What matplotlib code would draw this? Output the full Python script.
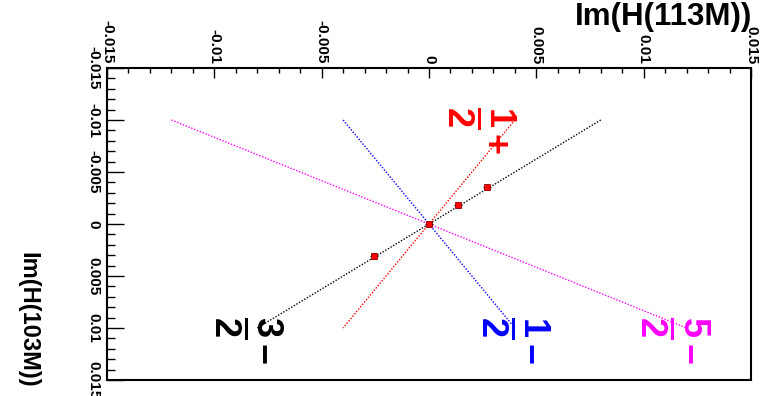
import matplotlib.pyplot as plt
from matplotlib.ticker import MultipleLocator, FuncFormatter

plt.rcParams['font.family'] = ['Liberation Sans', 'DejaVu Sans']
plt.rcParams['font.weight'] = 'bold'
plt.rcParams['axes.unicode_minus'] = False
plt.rcParams['mathtext.fontset'] = 'custom'
plt.rcParams['mathtext.rm'] = 'Liberation Sans:bold'
plt.rcParams['mathtext.it'] = 'Liberation Sans:bold'
plt.rcParams['mathtext.bf'] = 'Liberation Sans:bold'

# -----------------------------------
# Data
# -----------------------------------
# spin-parity hypotheses, drawn between the two H(103M) end values
line_h103 = [-0.01, 0.01]
hyp_labels = [r'$\frac{1}{2}^{+}$', r'$\frac{1}{2}^{-}$',
              r'$\frac{3}{2}^{-}$', r'$\frac{5}{2}^{-}$']
hyp_colors = ['red', 'blue', 'black', 'magenta']
hyp_h113 = [[0.004, -0.004], [-0.004, 0.004],
            [0.008, -0.008], [-0.012, 0.012]]
label_h113 = [0.0024, 0.0040, -0.0084, 0.0114]
label_h103 = [-0.0090, 0.0112, 0.0112, 0.0112]

# measured points
meas_h113 = [0.0027, 0.00135, 0.0, -0.00256]
meas_h103 = [-0.00356, -0.00183, 0.0, 0.00308]
meas_err113 = [0.0002, 0.0002, 0.0002, 0.0002]
meas_err103 = [0.0003, 0.0003, 0.0003, 0.0003]

# -----------------------------------
# Figure
# -----------------------------------
fig = plt.figure(figsize=(7.67, 3.96), dpi=100)
ax = fig.add_axes([107 / 767, 16 / 396, 644 / 767, 312 / 396])

for h113, col in zip(hyp_h113, hyp_colors):
    ax.plot(h113, line_h103, ls=(0, (1, 1.2)), lw=1.0, color=col)

ax.errorbar(meas_h113, meas_h103, xerr=meas_err113, yerr=meas_err103,
            fmt='s', ms=4, mfc='red', mec='darkred', mew=0.6,
            ecolor='black', elinewidth=0.8, capsize=0, zorder=5)

for lab, x, y, col in zip(hyp_labels, label_h113, label_h103, hyp_colors):
    ax.text(x, y, lab, rotation=-90, ha='center', va='center',
            fontsize=37, color=col)

# -----------------------------------
# Axes
# -----------------------------------
ax.set_xlim(-0.015, 0.015)
ax.set_ylim(0.015, -0.015)

fmt = FuncFormatter(lambda v, p: '%g' % (round(v, 6) + 0.0))
for axis in (ax.xaxis, ax.yaxis):
    axis.set_major_locator(MultipleLocator(0.005))
    axis.set_minor_locator(MultipleLocator(0.001))
    axis.set_major_formatter(fmt)

ax.xaxis.tick_top()
ax.tick_params(which='both', direction='in', top=True, bottom=False,
               left=True, right=False, labeltop=True, labelbottom=False)
ax.tick_params(axis='x', which='major', length=7, width=1, pad=3,
               labelsize=11, labelrotation=-90)
ax.tick_params(axis='x', which='minor', length=3.5, width=1)
ax.tick_params(axis='y', which='major', length=12, width=1, pad=5,
               labelsize=11, labelrotation=-90)
ax.tick_params(axis='y', which='minor', length=6, width=1)
for lab in ax.get_yticklabels():
    lab.set_va('center')

for sp in ax.spines.values():
    sp.set_linewidth(1.5)

fig.text(752 / 767, 1 - 25 / 396, 'Im(H(113M))', ha='right', va='baseline',
         fontsize=22.5, fontweight='bold')
fig.text(28 / 767, 1 - 320 / 396, 'Im(H(103M))', ha='center', va='center',
         rotation=-90, fontsize=17, fontweight='bold')

fig.savefig('out.png', dpi=100)
